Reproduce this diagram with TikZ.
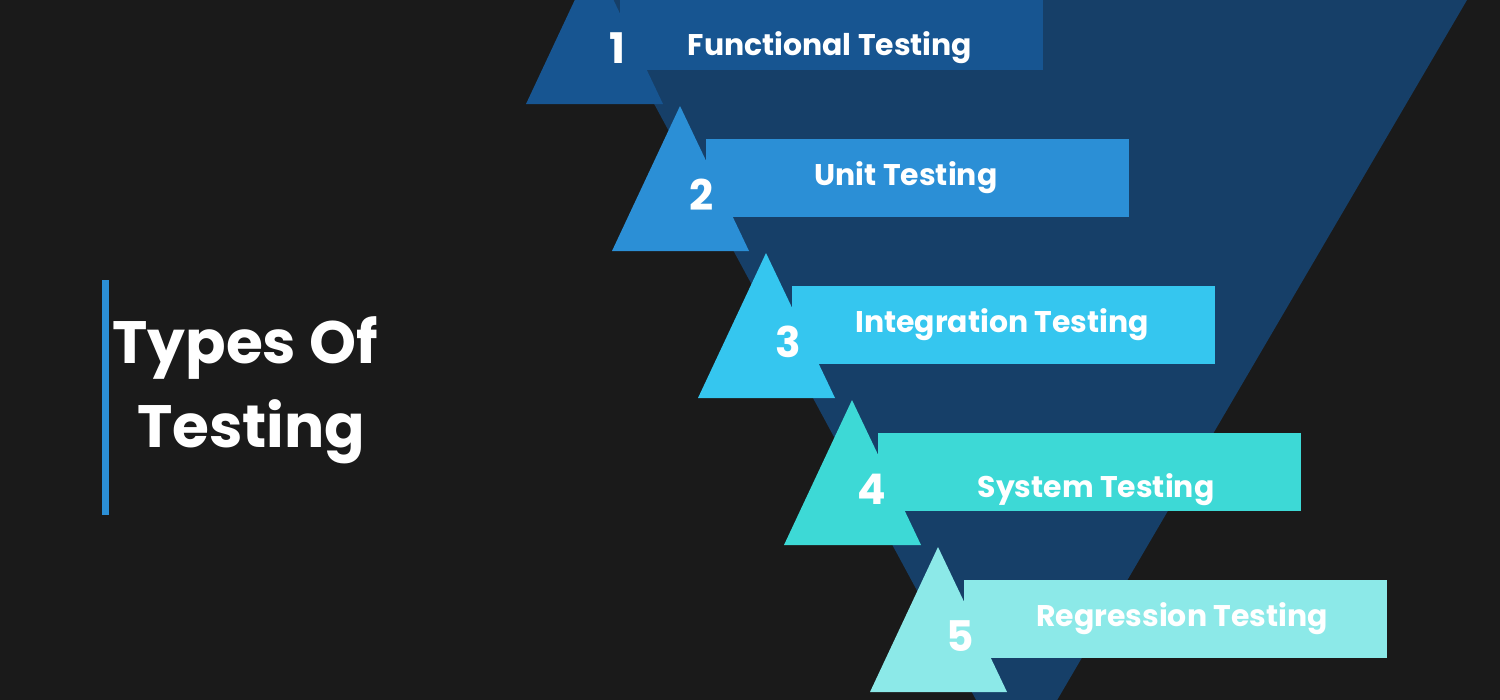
\documentclass[tikz,border=0pt]{standalone}
\usepackage{fontspec}
\setmainfont{Poppins}
\definecolor{bg}{HTML}{1A1A1A}
\definecolor{funnel}{HTML}{163F68}
\definecolor{bandA}{HTML}{175591}
\definecolor{bandB}{HTML}{2B8FD6}
\definecolor{bandC}{HTML}{35C6EF}
\definecolor{bandD}{HTML}{3DD9D6}
\definecolor{bandE}{HTML}{8CE9E8}
\tikzset{
  label/.style={text=white, font=\bfseries\fontsize{8.5}{10}\selectfont, inner sep=0pt},
  num/.style={text=white, font=\bfseries\fontsize{12}{14}\selectfont, inner sep=0pt}
}
\begin{document}
\begin{tikzpicture}[x=0.01cm, y=-0.01cm]
            \fill[bg] (0,0) rectangle (1500,700);
            \useasboundingbox (0,0) rectangle (1500,700);
            \clip (0,0) rectangle (1500,700);

            \fill[funnel] (598,0) -- (1467,0) -- (1015,772) -- cycle;

            % bands
            \foreach \k/\col/\txt/\tx/\ty/\nx in {0/bandA/Functional Testing/830/48/617, 1/bandB/Unit Testing/906/178/702, 2/bandC/Integration Testing/1002/325/788, 3/bandD/System Testing/1096/490/872, 4/bandE/Regression Testing/1182/619/960}{
                \fill[\col] (526+86*\k,104+147*\k) -- (594+86*\k,-41+147*\k) -- (663+86*\k,104+147*\k) -- cycle;
                \fill[\col] (620+86*\k,-8+147*\k) rectangle (1043+86*\k,70+147*\k);
                \node[num] (n\k) at (\nx,48+147*\k) {\the\numexpr\k+1\relax};
                \node[label] (t\k) at (\tx,\ty) {\txt};
            }

            \fill[bandB] (102,280) rectangle (109,515);
            \node[text=white, font=\bfseries\fontsize{17}{24}\selectfont, align=center] (title) at (245,390) {Types Of\\\ Testing};
\end{tikzpicture}
\end{document}
